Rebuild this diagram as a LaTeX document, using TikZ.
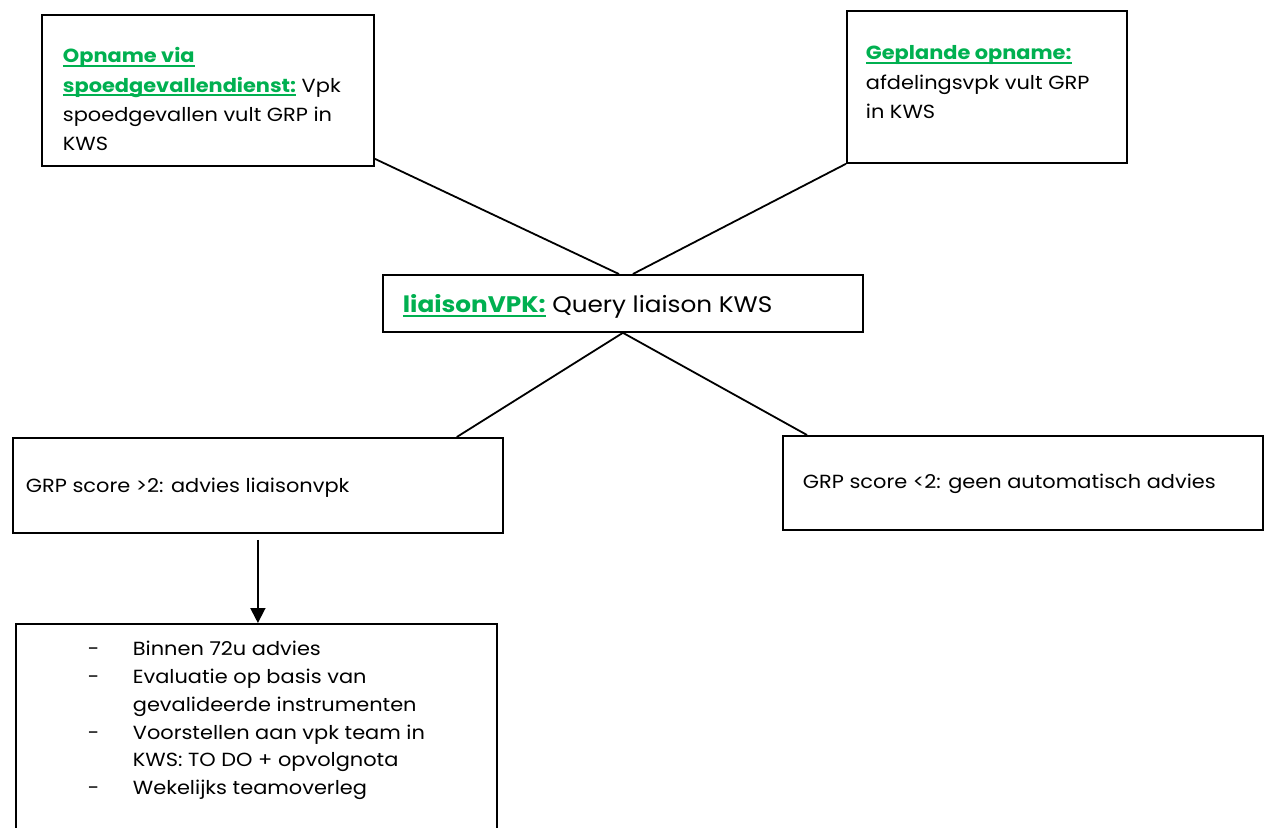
\documentclass[tikz,border=0pt]{standalone}
\usepackage{fontspec}
\setmainfont{Poppins}[FakeStretch=1.1]
\usetikzlibrary{arrows.meta}
\definecolor{wgreen}{HTML}{00B050}
\newcommand{\bxc}[6]{% width, height, first baseline, left pad, baselineskip, content
  \vbox to #2{\hsize=#1\relax\leftskip=#4\relax\rightskip=0pt plus 1fil\relax
  \parindent=0pt\relax\baselineskip=#5\relax
  \vskip\dimexpr #3-0.7\baselineskip\relax
  \vrule height 0.7\baselineskip depth 0.3\baselineskip width 0pt #6\par\vss}}
\newcommand{\grn}[1]{{\bfseries\color{wgreen}\setbox0\hbox{#1}\rlap{\rule[-4pt]{\wd0}{1.8pt}}\box0}}
\newcommand{\dsh}{\makebox[45pt][l]{-}}
\tikzset{
  box/.style={draw=black, line width=1.8pt, inner sep=0pt, anchor=north west, font=\fontsize{19}{29}\selectfont},
  conn/.style={draw=black, line width=1.8pt},
}
\begin{document}
\begin{tikzpicture}[x=1pt,y=-1pt]
\useasboundingbox (0,0) rectangle (1268,827);
\clip (0,0) rectangle (1268,827);
\node[box] (b1) at (41,14) {\bxc{332pt}{151pt}{48pt}{21pt}{29.3pt}{\grn{Opname via}\\\grn{spoedgevallendienst:} Vpk\\spoedgevallen vult GRP in\\KWS}};
\node[box] (b2) at (846,10) {\bxc{280pt}{152pt}{49pt}{19pt}{29.3pt}{\grn{Geplande opname:}\\afdelingsvpk vult GRP\\in KWS}};
\node[box, font=\fontsize{22.5}{29}\selectfont] (b3) at (382,274) {\bxc{480pt}{57pt}{38pt}{20pt}{29pt}{\grn{liaisonVPK:} Query liaison KWS}};
\node[box] (b4) at (12,437) {\bxc{490pt}{95pt}{55pt}{13pt}{29pt}{GRP score >2: advies liaisonvpk}};
\node[box] (b5) at (782,435) {\bxc{480pt}{94pt}{53pt}{20pt}{29pt}{GRP score <2: geen automatisch advies}};
\node[box] (b6) at (15,623) {\bxc{481pt}{240pt}{32pt}{72pt}{27.7pt}{\dsh Binnen 72u advies\\\dsh Evaluatie op basis van\\\hspace*{45pt}gevalideerde instrumenten\\\dsh Voorstellen aan vpk team in\\\hspace*{45pt}KWS: TO DO + opvolgnota\\\dsh Wekelijks teamoverleg}};
\draw[conn] ([yshift=8pt]b1.south east) -- ([xshift=-4pt]b3.north);
\draw[conn] (b2.south west) -- ([xshift=10pt]b3.north);
\draw[conn] (b3.south) -- ([xshift=-47pt]b4.north east);
\draw[conn] (b3.south) -- ([xshift=25pt]b5.north west);
\draw[conn, -{Triangle[width=15pt,length=15pt]}] ([yshift=-6pt]b4.south) -- (b4.south |- b6.north);
\end{tikzpicture}
\end{document}
